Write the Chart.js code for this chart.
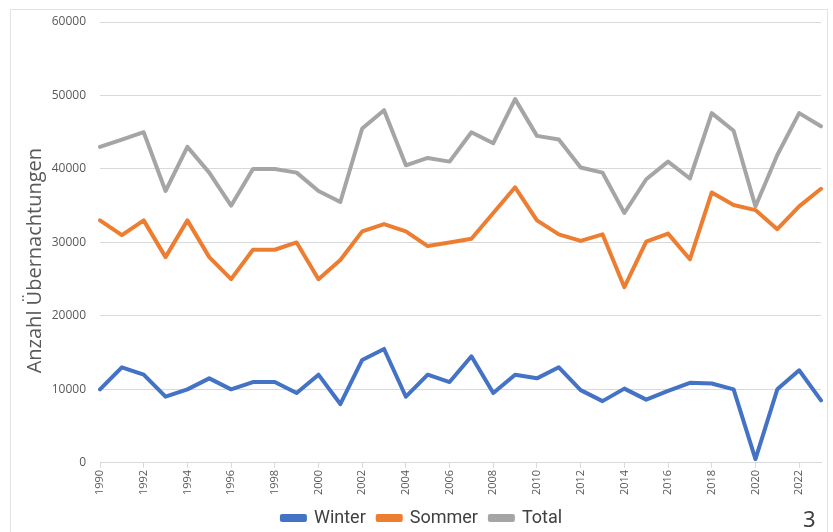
<!DOCTYPE html>
<html>
<head>
<meta charset="utf-8">
<script src="https://cdn.jsdelivr.net/npm/chart.js@4.4.1/dist/chart.umd.min.js"></script>
<style>
  html, body { margin: 0; padding: 0; background: #fff; }
  #wrap { position: relative; width: 833px; height: 532px; }
  #frame { position: absolute; left: 10px; top: 9px; width: 818px; height: 540px; border: 1px solid #e3e3e3; box-sizing: border-box; }
  #pageNo { position: absolute; left: 803px; top: 503px; font: 22px "Noto Sans", sans-serif; color: #404040; }
  canvas { position: absolute; left: 0; top: 0; }
</style>
</head>
<body>
<div id="wrap">
  <div id="frame"></div>
  <canvas id="lineChart" width="833" height="532"></canvas>
  <div id="pageNo">3</div>
</div>
<script>
// years on the x axis
const years = ['1990','1991','1992','1993','1994','1995','1996','1997','1998','1999',
  '2000','2001','2002','2003','2004','2005','2006','2007','2008','2009',
  '2010','2011','2012','2013','2014','2015','2016','2017','2018','2019',
  '2020','2021','2022','2023'];

const winter = [10000,13000,12000,9000,10000,11500,10000,11000,11000,9500,
  12000,8000,14000,15500,9000,12000,11000,14500,9500,12000,
  11500,13000,9900,8400,10100,8600,9800,10900,10800,10000,
  500,10000,12600,8500];

const sommer = [33000,31000,33000,28000,33000,28000,25000,29000,29000,30000,
  25000,27600,31500,32500,31500,29500,30000,30500,34000,37500,
  33000,31100,30200,31100,23900,30100,31200,27700,36800,35100,
  34400,31800,34900,37300];

const total = [43000,44000,45000,37000,43000,39500,35000,40000,40000,39500,
  37000,35500,45500,48000,40500,41500,41000,45000,43500,49500,
  44500,44000,40200,39500,34000,38600,41000,38700,47600,45200,
  34900,41900,47600,45800];

const yTicks = [0, 10000, 20000, 30000, 40000, 50000, 60000];

const grey = '#595959';

function makeSet(label, values, color) {
  return {
    label: label,
    data: values,
    borderColor: color,
    backgroundColor: color,
    borderWidth: 4,
    pointRadius: 0,
    tension: 0,
    borderJoinStyle: 'round',
    borderCapStyle: 'round'
  };
}

const ctx = document.getElementById('lineChart').getContext('2d');

const lineChart = new Chart(ctx, {
  type: 'line',
  data: {
    labels: years,
    datasets: [
      makeSet('Winter', winter, '#4472C4'),
      makeSet('Sommer', sommer, '#ED7D31'),
      makeSet('Total', total, '#A5A5A5')
    ]
  },
  options: {
    responsive: false,
    animation: false,
    layout: { padding: { left: 23, right: 12, top: 22, bottom: -5 } },
    plugins: {
      legend: {
        position: 'bottom',
        labels: {
          boxWidth: 23,
          boxHeight: 4,
          padding: 12,
          color: '#404040',
          font: { family: 'Roboto', size: 18 }
        }
      },
      tooltip: { enabled: false }
    },
    scales: {
      x: {
        offset: false,
        grid: {
          drawOnChartArea: false,
          drawTicks: true,
          tickLength: 5,
          color: '#d9d9d9'
        },
        border: { color: '#d9d9d9' },
        ticks: {
          autoSkip: false,
          minRotation: 90,
          maxRotation: 90,
          padding: 2,
          color: grey,
          font: { family: 'Open Sans', size: 11 },
          callback: function(val, idx) {
            return idx % 2 === 0 ? this.getLabelForValue(val) : null;
          }
        }
      },
      y: {
        min: 0,
        max: 60000,
        afterBuildTicks: function(axis) {
          axis.ticks = yTicks.map(v => ({ value: v }));
        },
        afterFit: function(axis) { axis.width = 77; },
        grid: { color: '#d9d9d9', lineWidth: 1, drawTicks: false },
        border: { display: false },
        ticks: {
          padding: 14,
          color: grey,
          font: { family: 'Open Sans', size: 12 },
          callback: function(v) { return String(v); }
        },
        title: {
          display: true,
          // trailing spaces nudge the title down like in the original
          text: 'Anzahl Übernachtungen       ',
          color: grey,
          padding: { top: 0, bottom: 0 },
          font: { family: 'Open Sans', size: 20 }
        }
      }
    }
  }
});
</script>
</body>
</html>
